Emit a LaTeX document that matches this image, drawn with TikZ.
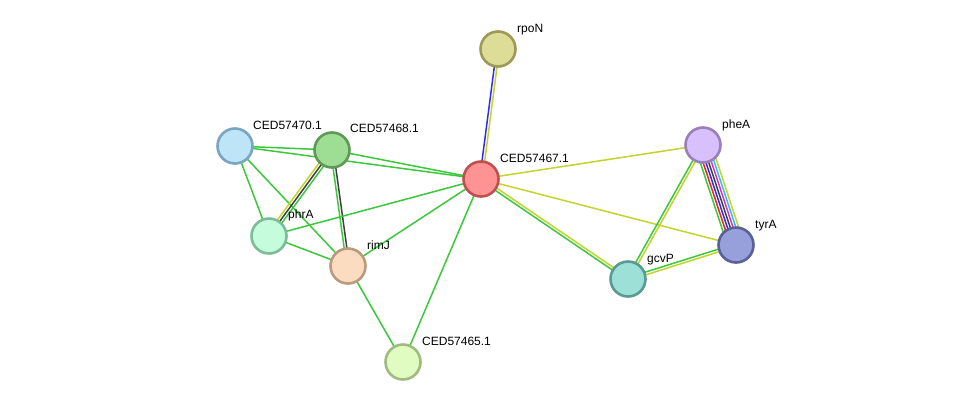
\documentclass[tikz,border=0pt]{standalone}
\usepackage{fontspec}
\setmainfont{Liberation Sans}
\usetikzlibrary{calc,backgrounds}
\definecolor{eg}{HTML}{3CC83C}
\definecolor{ey}{HTML}{C4D42C}
\definecolor{eb}{HTML}{2E2EF0}
\definecolor{ek}{HTML}{404040}
\definecolor{er}{HTML}{F02424}
\definecolor{em}{HTML}{D034D0}
\definecolor{ec}{HTML}{34C0E4}
\tikzset{
  prot/.style={circle, minimum size=35, inner sep=0, line width=2.6},
  lab/.style={anchor=base west, inner sep=0, font=\fontsize{12}{14}\selectfont},
}
\newcommand\multiedge[3]{%
  \foreach \c [count=\i] in {#3} {\xdef\nn{\i}}%
  \foreach \c [count=\i] in {#3} {%
    \pgfmathsetmacro\off{(\i-(\nn+1)/2)*2.7}%
    \draw[\c, line width=1.5] ($(#1)!\off pt!90:(#2)$) -- ($(#2)!\off pt!-90:(#1)$);
  }}
\begin{document}
\begin{tikzpicture}[x=1pt,y=-1pt]
\useasboundingbox (0,0) rectangle (976,408);
\node[prot, fill={rgb,255:red,222;green,221;blue,151}, draw={rgb,255:red,158;green,154;blue,85}] (rpoN) at (498,49) {};
\node[prot, fill={rgb,255:red,255;green,146;blue,146}, draw={rgb,255:red,192;green,80;blue,80}] (c67) at (481,179) {};
\node[prot, fill={rgb,255:red,190;green,228;blue,248}, draw={rgb,255:red,122;green,165;blue,192}] (c70) at (235,146) {};
\node[prot, fill={rgb,255:red,158;green,222;blue,148}, draw={rgb,255:red,93;green,154;blue,85}] (c68) at (332,150) {};
\node[prot, fill={rgb,255:red,196;green,252;blue,220}, draw={rgb,255:red,125;green,187;blue,153}] (phrA) at (269,236) {};
\node[prot, fill={rgb,255:red,252;green,220;blue,192}, draw={rgb,255:red,187;green,154;blue,125}] (rimJ) at (348,266) {};
\node[prot, fill={rgb,255:red,224;green,252;blue,192}, draw={rgb,255:red,160;green,187;blue,128}] (c65) at (403,362) {};
\node[prot, fill={rgb,255:red,216;green,192;blue,252}, draw={rgb,255:red,154;green,128;blue,187}] (pheA) at (703,145) {};
\node[prot, fill={rgb,255:red,152;green,160;blue,220}, draw={rgb,255:red,90;green,96;blue,153}] (tyrA) at (736,245) {};
\node[prot, fill={rgb,255:red,156;green,224;blue,216}, draw={rgb,255:red,90;green,154;blue,148}] (gcvP) at (628,279) {};
\node[lab] (lrpoN) at (517,32) {rpoN};
\node[lab] (lc67) at (500,162) {CED57467.1};
\node[lab] (lc70) at (253,129) {CED57470.1};
\node[lab] (lc68) at (350,132) {CED57468.1};
\node[lab] (lphrA) at (288,218) {phrA};
\node[lab] (lrimJ) at (367,249) {rimJ};
\node[lab] (lc65) at (422,345) {CED57465.1};
\node[lab] (lpheA) at (722,128) {pheA};
\node[lab] (ltyrA) at (755,228) {tyrA};
\node[lab] (lgcvP) at (647,262) {gcvP};
\begin{scope}[on background layer]
\fill[white] (0,0) rectangle (976,408);
\multiedge{rpoN}{c67}{eb,ey}
\multiedge{c70}{c68}{eg}
\multiedge{c70}{c67}{eg}
\multiedge{c68}{c67}{eg}
\multiedge{c70}{phrA}{eg}
\multiedge{c70}{rimJ}{eg}
\multiedge{c68}{phrA}{ey,ek,eg}
\multiedge{c68}{rimJ}{eg,ek}
\multiedge{phrA}{rimJ}{eg}
\multiedge{phrA}{c67}{eg}
\multiedge{rimJ}{c67}{eg}
\multiedge{rimJ}{c65}{eg}
\multiedge{c65}{c67}{eg}
\multiedge{c67}{pheA}{ey}
\multiedge{c67}{tyrA}{ey}
\multiedge{c67}{gcvP}{eg,ey}
\multiedge{pheA}{gcvP}{eg,ey}
\multiedge{gcvP}{tyrA}{ey,eg}
\multiedge{pheA}{tyrA}{eg,er,eb,ek,em,ec,ey}
\end{scope}
\end{tikzpicture}
\end{document}
